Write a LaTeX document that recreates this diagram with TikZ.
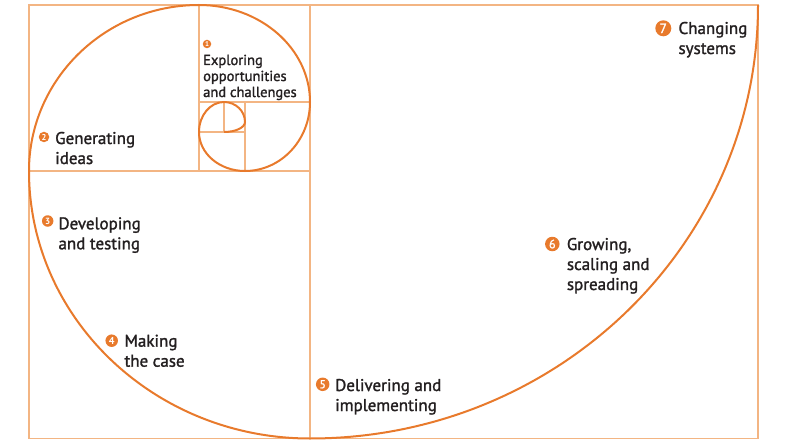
\documentclass[tikz,border=0pt]{standalone}
\usepackage{fontspec}
\setmainfont{PT Sans}[FakeBold=1.5]
\newfontfamily\numfont{PT Sans Bold}
\definecolor{spiralc}{HTML}{E87A2C}
\definecolor{gridc}{HTML}{F3B583}
\definecolor{textc}{HTML}{231F20}
\newcommand{\steplines}[1]{\begin{tabular}[t]{@{}l@{}}#1\end{tabular}}
\begin{document}
\begin{tikzpicture}[x=1pt,y=1pt,
  gridline/.style={gridc, line width=1.1pt},
  spiralline/.style={spiralc, line width=2pt},
  numdot/.style={circle, fill=spiralc, text=white, inner sep=0pt},
  steplabel/.style={anchor=base west, inner sep=0pt, text=textc, font=\fontsize{17}{20}\selectfont}
]
\useasboundingbox (0,0) rectangle (794,445);
% grid of squares
\draw[gridline] (29,6.5) rectangle (758,440);
\draw[gridline] (310,440) -- (310,6.5);
\draw[gridline] (29,274) -- (310,274);
\draw[gridline] (199,440) -- (199,274);
\draw[gridline] (199,343) -- (310,343);
\draw[gridline] (245,343) -- (245,274);
\draw[gridline] (199,313) -- (245,313);
\draw[gridline] (224,343) -- (224,313);
% spiral
\draw[spiralline] (224,313)
  arc[start angle=-90, end angle=0, x radius=21, y radius=10]
  arc[start angle=0, end angle=90, x radius=21, y radius=20]
  arc[start angle=90, end angle=180, x radius=25, y radius=30]
  arc[start angle=180, end angle=270, x radius=46, y radius=39]
  arc[start angle=270, end angle=360, x radius=65, y radius=69]
  arc[start angle=0, end angle=90, x radius=111, y radius=97]
  arc[start angle=90, end angle=180, x radius=170, y radius=166]
  arc[start angle=180, end angle=270, x radius=281, y radius=267.5]
  arc[start angle=270, end angle=360, x radius=448, y radius=433.5];
% labels
\node[numdot, minimum size=8.5pt, font=\numfont\fontsize{7}{7}\selectfont] (n1) at (207,401) {1};
\node[steplabel, font=\fontsize{14.5}{16}\selectfont] (t1) at (203,380) {\steplines{Exploring\\opportunities\\and challenges}};
\node[numdot, minimum size=10.5pt, font=\numfont\fontsize{8.5}{8.5}\selectfont] (n2) at (44,308) {2};
\node[steplabel] (t2) at (55,301) {\steplines{Generating\\ideas}};
\node[numdot, minimum size=11.5pt, font=\numfont\fontsize{9}{9}\selectfont] (n3) at (47.7,224) {3};
\node[steplabel] (t3) at (58.3,215.7) {\steplines{Developing\\and testing}};
\node[numdot, minimum size=12.5pt, font=\numfont\fontsize{10}{10}\selectfont] (n4) at (111.7,104.3) {4};
\node[steplabel] (t4) at (124.3,98.3) {\steplines{Making\\the case}};
\node[numdot, minimum size=13.5pt, font=\fontsize{11.5}{11.5}\selectfont] (n5) at (322.7,60.7) {5};
\node[steplabel] (t5) at (335,54) {\steplines{Delivering and\\implementing}};
\node[numdot, minimum size=14.5pt, font=\fontsize{12}{12}\selectfont] (n6) at (552.3,201) {6};
\node[steplabel] (t6) at (566.7,195) {\steplines{Growing,\\scaling and\\spreading}};
\node[numdot, minimum size=16pt, font=\fontsize{13.5}{13.5}\selectfont] (n7) at (663.3,416.7) {7};
\node[steplabel] (t7) at (678.3,411) {\steplines{Changing\\systems}};
\end{tikzpicture}
\end{document}
